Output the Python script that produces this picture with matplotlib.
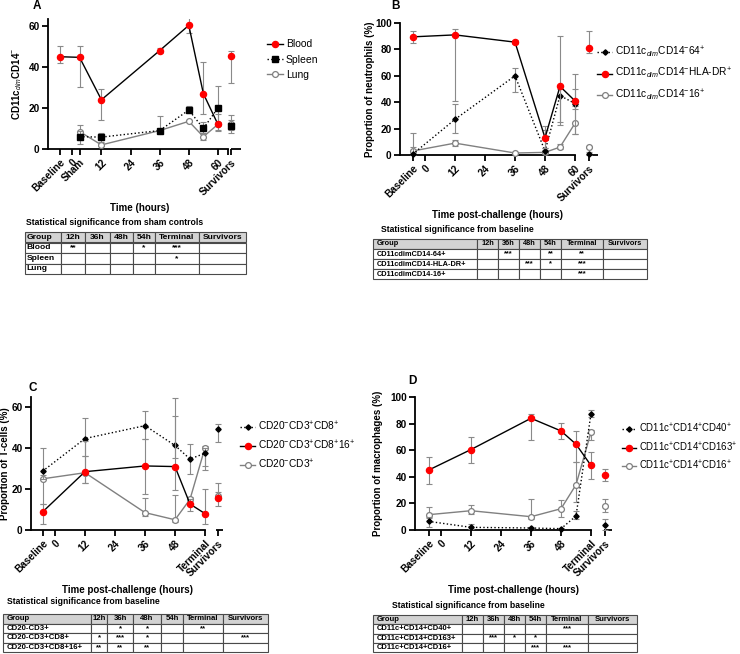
import matplotlib
matplotlib.use("Agg")
import matplotlib.pyplot as plt
from matplotlib.table import Table
import numpy as np

plt.rcParams['font.family'] = ['Liberation Sans', 'DejaVu Sans']
plt.rcParams['mathtext.fontset'] = 'custom'
plt.rcParams['mathtext.rm'] = 'Liberation Sans'
plt.rcParams['mathtext.it'] = 'Liberation Sans:italic'
plt.rcParams['mathtext.bf'] = 'Liberation Sans:bold'

# ---------------- data ----------------
# time points (hours); baseline / sham / survivors sit on the same hour axis
a_times = [-5, 3, 12, 36, 48, 54, 60]
a_surv_x = 65.5
a_blood = [45, 44.7, 24, 48, 60.3, 27, 12]
a_blood_lo = [42, 30, 14, 47, 56.5, 17, 9.5]
a_blood_hi = [50, 50, 29.5, 49.5, 64.5, 42.5, 13]
a_blood_surv = [45.3, 32, 48]
a_spleen = [np.nan, 6, 5.8, 9, 19, 10, 20]
a_spleen_lo = [np.nan, 2.5, 3.5, 8.5, 17.5, 7.5, 11.5]
a_spleen_hi = [np.nan, 9, 8, 16, 21, 13, 30.5]
a_spleen_surv = [11, 8, 14]
a_lung = [np.nan, 8.5, 2, 9, 13.5, 6, 12]
a_lung_lo = [np.nan, 6, 1.5, 8.5, 13, 4.5, 9]
a_lung_hi = [np.nan, 11.5, 2.5, 9.5, 14, 8, 17]
a_lung_surv = [12, 9.5, 16.5]
a_ticks = [-5, 0, 3, 12, 24, 36, 48, 60, 65.5]
a_ticklabels = ['Baseline', '0', 'Sham', '12', '24', '36', '48', '60', 'Survivors']

b_times = [-5, 12, 36, 48, 54, 60]
b_surv_x = 65.5
b_cd64 = [0.5, 27, 60, 3, 45, 39]
b_cd64_lo = [0, 16.5, 48, 0.5, 23, 35]
b_cd64_hi = [17, 38.5, 66, 5, 50, 50]
b_cd64_surv = [1, 0, 2]
b_hla = [89.5, 91, 85.5, 13, 52, 41]
b_hla_lo = [84.5, 41, 84, 5, 25, 16]
b_hla_hi = [94, 95.5, 87.5, 22, 90, 61.5]
b_hla_surv = [81, 77.5, 94]
b_cd16 = [3, 9, 1.5, 2, 6, 24]
b_cd16_lo = [0.5, 7, 1, 1, 4.5, 16]
b_cd16_hi = [6, 11, 2, 19, 8, 37]
b_cd16_surv = [6, 5, 7]
b_ticks = [-5, 0, 12, 24, 36, 48, 60, 65.5]
b_ticklabels = ['Baseline', '0', '12', '24', '36', '48', '60', 'Survivors']

c_times = [-5, 12, 36, 48, 54, 60]
c_surv_x = 65
c_cd8 = [28.7, 44.7, 51, 41.3, 34.7, 37.5]
c_cd8_lo = [25, 36, 44.5, 35, 27.5, 31.5]
c_cd8_hi = [40, 54.5, 58, 64.7, 42, 40]
c_cd8_surv = [49.3, 43, 52]
c_cd816 = [8.8, 28.5, 31.3, 31, 12.7, 8]
c_cd816_lo = [3, 23, 17.5, 19.5, 9.5, 3]
c_cd816_hi = [12.5, 43.5, 44.5, 55.5, 15, 20]
c_cd816_surv = [15.5, 11.5, 23]
c_cd3 = [25, 28, 8.5, 5, 15, 40.2]
c_cd3_lo = [12.5, 23, 7, 4, 14, 29.5]
c_cd3_hi = [27, 36, 15.5, 17, 16, 41]
c_cd3_surv = [16.5, 15, 18.5]
c_ticks = [-5, 0, 12, 24, 36, 48, 60, 65]
c_ticklabels = ['Baseline', '0', '12', '24', '36', '48', 'Terminal', 'Survivors']

d_times = [-5, 12, 36, 48, 54, 60]
d_surv_x = 65.5
d_cd40 = [6.5, 2, 1.5, 1, 10.5, 87.5]
d_cd40_lo = [2, 1, 0.5, 0.5, 8, 85]
d_cd40_hi = [10, 4.5, 2.5, 1.5, 14.5, 90]
d_cd40_surv = [3.5, 0, 8.5]
d_cd163 = [45, 60.5, 84, 74.5, 64.5, 48.5]
d_cd163_lo = [34.5, 50.5, 68, 68.5, 51.5, 38.5]
d_cd163_hi = [55, 70, 87, 80.5, 74.5, 58.5]
d_cd163_surv = [41.5, 37, 46]
d_cd16 = [11.5, 14.5, 10, 16, 34, 73.5]
d_cd16_lo = [9, 12, 8, 9.5, 21, 68]
d_cd16_hi = [17, 18.5, 23, 22.5, 51.5, 75]
d_cd16_surv = [18, 13.5, 23]
d_ticks = [-5, 0, 12, 24, 36, 48, 60, 65.5]
d_ticklabels = ['Baseline', '0', '12', '24', '36', '48', 'Terminal', 'Survivors']

# significance tables
tab_header = ['Group', '12h', '36h', '48h', '54h', 'Terminal', 'Survivors']
a_table = [['Blood', '**', '', '', '*', '***', ''],
           ['Spleen', '', '', '', '', '*', ''],
           ['Lung', '', '', '', '', '', '']]
b_table = [['CD11cdimCD14-64+', '', '***', '', '**', '**', ''],
           ['CD11cdimCD14-HLA-DR+', '', '', '***', '*', '***', ''],
           ['CD11cdimCD14-16+', '', '', '', '', '***', '']]
c_table = [['CD20-CD3+', '', '*', '*', '', '**', ''],
           ['CD20-CD3+CD8+', '*', '***', '*', '', '', '***'],
           ['CD20-CD3+CD8+16+', '**', '**', '**', '', '', '']]
d_table = [['CD11c+CD14+CD40+', '', '', '', '', '***', ''],
           ['CD11c+CD14+CD163+', '', '***', '*', '*', '', ''],
           ['CD11c+CD14+CD16+', '', '', '', '***', '***', '']]

# ---------------- styles ----------------
RED = dict(color='black', ls='-', lw=1, marker='o', ms=4.4, mfc='#ff0000', mec='#ff0000')
SQ = dict(color='black', ls=':', lw=1, marker='s', ms=3.7, mfc='black', mec='black')
GREY = dict(color='#808080', ls='-', lw=1, marker='o', ms=4.2, mfc='white', mec='#808080', mew=0.9)
DIA = dict(color='black', ls=':', lw=1, marker='D', ms=2.7, mfc='black', mec='black')

W, H = 740, 654
fig = plt.figure(figsize=(W / 100, H / 100), dpi=100)


def rect(l, t, r, b):
    return [l / W, 1 - b / H, (r - l) / W, (b - t) / H]


def series(ax, xs, vals, lo, hi, sx, surv, style, label, z):
    vals = np.array(vals, dtype=float)
    err = [vals - np.array(lo, dtype=float), np.array(hi, dtype=float) - vals]
    ax.errorbar(xs, vals, yerr=err, fmt='none', ecolor='#8a8a8a', elinewidth=0.8,
                capsize=2.3, capthick=0.8, zorder=z)
    ax.errorbar([sx], [surv[0]], yerr=[[surv[0] - surv[1]], [surv[2] - surv[0]]],
                fmt='none', ecolor='#8a8a8a', elinewidth=0.8, capsize=2.3, capthick=0.8, zorder=z)
    line, = ax.plot(xs, vals, label=label, zorder=z + 1, clip_on=False, **style)
    st = dict(style)
    st['ls'] = 'none'
    ax.plot([sx], [surv[0]], zorder=z + 1, clip_on=False, **st)
    return line


def style_axes(ax, xlim, main_end, seg, ylim, yticks, ticks, ticklabels, ylabel, ylab_x):
    ax.set_xlim(*xlim)
    ax.set_ylim(*ylim)
    for s in ['top', 'right']:
        ax.spines[s].set_visible(False)
    for s in ['left', 'bottom']:
        ax.spines[s].set_linewidth(1.3)
    ax.spines['bottom'].set_bounds(xlim[0], main_end)
    ax.plot(seg, [0, 0], transform=ax.get_xaxis_transform(), color='black', lw=1.3,
            clip_on=False, solid_capstyle='butt')
    ax.set_yticks(yticks)
    ax.set_yticklabels([str(v) for v in yticks], fontweight='bold', fontsize=7.2)
    ax.set_xticks(ticks)
    ax.set_xticklabels(ticklabels, rotation=45, ha='right', rotation_mode='anchor',
                       fontweight='bold', fontsize=7.2)
    ax.tick_params(direction='out', length=4, width=1.3, pad=2)
    ax.set_ylabel(ylabel, fontweight='bold', fontsize=7)
    ax.yaxis.set_label_coords(ylab_x, 0.5)


def draw_table(l, t, r, b, cols, rows, fs):
    tax = fig.add_axes(rect(l, t, r, b))
    tax.axis('off')
    tab = Table(tax, bbox=[0, 0, 1, 1])
    widths = np.diff(cols) / (cols[-1] - cols[0])
    h = 1.0 / (len(rows) + 1)
    for ri, row in enumerate([tab_header] + rows):
        for ci, txt in enumerate(row):
            cell = tab.add_cell(ri, ci, widths[ci], h, text=txt,
                                loc='left' if ci == 0 else 'center',
                                facecolor='#d3d3d3' if ri == 0 else 'white')
            cell.PAD = 0.04 if ci == 0 else 0.05
            cell.set_edgecolor('#4a4a4a')
            cell.set_linewidth(0.8)
            cell.get_text().set_fontweight('bold')
    tab.auto_set_font_size(False)
    tab.set_fontsize(fs)
    tax.add_table(tab)


def ftext(x, y, s, **kw):
    fig.text(x / W, 1 - y / H, s, **kw)


LEG = dict(loc='upper left', frameon=False, handlelength=1.5, handletextpad=0.3, borderpad=0.2)

# ---------------- panel A ----------------
axA = fig.add_axes(rect(48, 19, 241, 149))
hA = [series(axA, a_times, a_blood, a_blood_lo, a_blood_hi, a_surv_x, a_blood_surv, RED, 'Blood', 6),
      series(axA, a_times, a_spleen, a_spleen_lo, a_spleen_hi, a_surv_x, a_spleen_surv, SQ, 'Spleen', 4),
      series(axA, a_times, a_lung, a_lung_lo, a_lung_hi, a_surv_x, a_lung_surv, GREY, 'Lung', 2)]
style_axes(axA, (-10, 69.5), 64, [65.5, 69.5], (0, 63.4), [0, 20, 40, 60],
           a_ticks, a_ticklabels, 'CD11c$_{dim}$CD14$^{-}$', -0.125)
axA.set_xticks([64], minor=True)
axA.tick_params(which='minor', direction='out', length=4, width=1.3)
fig.legend(handles=hA, bbox_to_anchor=(260 / W, 1 - 32 / H), fontsize=7.5, labelspacing=0.5, **LEG)

# ---------------- panel B ----------------
axB = fig.add_axes(rect(400, 23, 597.5, 155))
hB = [series(axB, b_times, b_cd64, b_cd64_lo, b_cd64_hi, b_surv_x, b_cd64_surv, DIA,
             'CD11c$_{dim}$CD14$^{-}$64$^{+}$', 4),
      series(axB, b_times, b_hla, b_hla_lo, b_hla_hi, b_surv_x, b_hla_surv, RED,
             'CD11c$_{dim}$CD14$^{-}$HLA-DR$^{+}$', 6),
      series(axB, b_times, b_cd16, b_cd16_lo, b_cd16_hi, b_surv_x, b_cd16_surv, GREY,
             'CD11c$_{dim}$CD14$^{-}$16$^{+}$', 2)]
style_axes(axB, (-10, 69), 60, [65.2, 69], (0, 100), [0, 20, 40, 60, 80, 100],
           b_ticks, b_ticklabels, 'Proportion of neutrophils (%)', -0.125)
fig.legend(handles=hB, bbox_to_anchor=(590 / W, 1 - 38 / H), fontsize=7.3, labelspacing=0.6, **LEG)

# ---------------- panel C ----------------
axC = fig.add_axes(rect(31, 397, 223, 530))
hC = [series(axC, c_times, c_cd8, c_cd8_lo, c_cd8_hi, c_surv_x, c_cd8_surv, DIA,
             'CD20$^{-}$CD3$^{+}$CD8$^{+}$', 4),
      series(axC, c_times, c_cd816, c_cd816_lo, c_cd816_hi, c_surv_x, c_cd816_surv, RED,
             'CD20$^{-}$CD3$^{+}$CD8$^{+}$16$^{+}$', 6),
      series(axC, c_times, c_cd3, c_cd3_lo, c_cd3_hi, c_surv_x, c_cd3_surv, GREY,
             'CD20$^{-}$CD3$^{+}$', 2)]
style_axes(axC, (-9.6, 67.2), 60, [64.5, 67.2], (0, 65), [0, 20, 40, 60],
           c_ticks, c_ticklabels, 'Proportion of T-cells (%)', -0.11)
fig.legend(handles=hC, bbox_to_anchor=(233 / W, 1 - 413 / H), fontsize=7.3, labelspacing=0.55, **LEG)

# ---------------- panel D ----------------
axD = fig.add_axes(rect(415, 397, 612, 530))
hD = [series(axD, d_times, d_cd40, d_cd40_lo, d_cd40_hi, d_surv_x, d_cd40_surv, DIA,
             'CD11c$^{+}$CD14$^{+}$CD40$^{+}$', 4),
      series(axD, d_times, d_cd163, d_cd163_lo, d_cd163_hi, d_surv_x, d_cd163_surv, RED,
             'CD11c$^{+}$CD14$^{+}$CD163$^{+}$', 6),
      series(axD, d_times, d_cd16, d_cd16_lo, d_cd16_hi, d_surv_x, d_cd16_surv, GREY,
             'CD11c$^{+}$CD14$^{+}$CD16$^{+}$', 2)]
style_axes(axD, (-10.4, 68.4), 60, [65, 68.4], (0, 100), [0, 20, 40, 60, 80, 100],
           d_ticks, d_ticklabels, 'Proportion of macrophages (%)', -0.16)
fig.legend(handles=hD, bbox_to_anchor=(615 / W, 1 - 415 / H), fontsize=6.9, labelspacing=0.55, **LEG)

# ---------------- labels ----------------
ftext(37, 6, 'A', fontweight='bold', fontsize=8.5, ha='center', va='center')
ftext(395, 6, 'B', fontweight='bold', fontsize=8.5, ha='center', va='center')
ftext(33, 388, 'C', fontweight='bold', fontsize=8.5, ha='center', va='center')
ftext(412, 381, 'D', fontweight='bold', fontsize=8.5, ha='center', va='center')

ftext(140, 208, 'Time (hours)', fontweight='bold', fontsize=7, ha='center', va='center')
ftext(498, 215, 'Time post-challenge (hours)', fontweight='bold', fontsize=7, ha='center', va='center')
ftext(127, 590, 'Time post-challenge (hours)', fontweight='bold', fontsize=7, ha='center', va='center')
ftext(513, 590, 'Time post-challenge (hours)', fontweight='bold', fontsize=7, ha='center', va='center')

ftext(26, 223, 'Statistical significance from sham controls', fontweight='bold', fontsize=6.2, va='center')
ftext(381, 229, 'Statistical significance from baseline', fontweight='bold', fontsize=6.2, va='center')
ftext(7, 602, 'Statistical significance from baseline', fontweight='bold', fontsize=6.2, va='center')
ftext(392, 605, 'Statistical significance from baseline', fontweight='bold', fontsize=6.2, va='center')

draw_table(25, 232, 246, 274, [25, 61, 85, 110, 133, 155, 199, 246], a_table, 6.1)
draw_table(373, 239, 647, 279, [373, 477, 498, 519, 540, 561, 603, 647], b_table, 5.3)
draw_table(3, 614, 268, 652, [3, 91, 107, 133, 161, 183, 223, 268], c_table, 5.6)
draw_table(373, 615, 637, 652, [373, 462, 483, 504, 525, 546, 588, 637], d_table, 5.5)

fig.savefig('out.png', dpi=100)
